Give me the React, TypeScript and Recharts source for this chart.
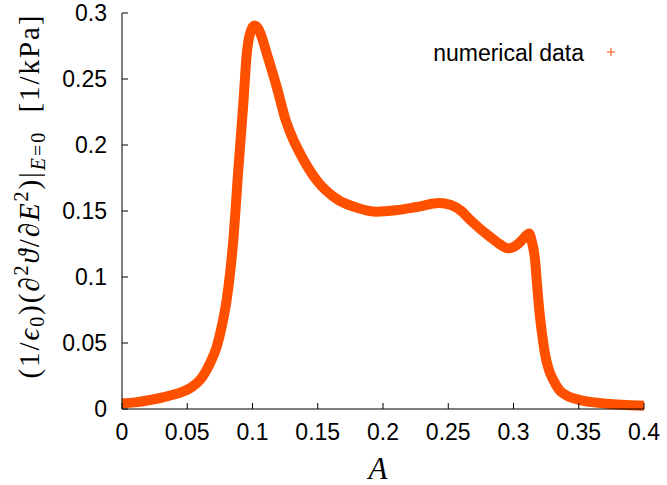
import { LineChart, Line, XAxis, YAxis } from 'recharts'

// sampled response curve, A on the x axis
const aValues = [
  0, 0.01, 0.0215, 0.033, 0.041, 0.047, 0.053, 0.0598, 0.0674, 0.0726, 0.0764, 0.0802, 0.0828, 0.0853, 0.0891, 0.093,
  0.0955, 0.098, 0.1015, 0.105, 0.108, 0.1109, 0.1185, 0.1254, 0.131, 0.1364, 0.149, 0.1658, 0.18, 0.195,
  0.21, 0.226, 0.243, 0.252, 0.26, 0.267, 0.275, 0.282, 0.29, 0.296, 0.3, 0.304, 0.308, 0.312, 0.314,
  0.3165, 0.318, 0.32, 0.322, 0.3241, 0.327, 0.3305, 0.335, 0.341, 0.351, 0.362, 0.374, 0.387, 0.4,
]
const responseValues = [
  0.0043, 0.005, 0.0068, 0.0092, 0.0113, 0.0133, 0.0163, 0.022, 0.0346, 0.0472, 0.0624, 0.0826, 0.1028, 0.128, 0.181, 0.232,
  0.268, 0.284, 0.2905, 0.287, 0.279, 0.2694, 0.2442, 0.2189, 0.2045, 0.1937, 0.1735, 0.1583, 0.1525, 0.1495,
  0.1505, 0.153, 0.156, 0.1545, 0.15, 0.143, 0.136, 0.1305, 0.1245, 0.1217, 0.1228, 0.1255, 0.1295, 0.133, 0.127,
  0.113, 0.095, 0.0725, 0.056, 0.042, 0.03, 0.022, 0.0145, 0.01, 0.0068, 0.005, 0.0038, 0.003, 0.0025,
]
const xTicks = [0, 0.05, 0.1, 0.15, 0.2, 0.25, 0.3, 0.35, 0.4]
const yTicks = [0, 0.05, 0.1, 0.15, 0.2, 0.25, 0.3]

const data = aValues.map((a, i) => ({ a, response: responseValues[i] }))

const CURVE = '#ff5000'
const TICK_FONT = '"Liberation Sans", Arial, Helvetica, sans-serif'
const MATH_FONT = '"Liberation Serif", "Times New Roman", "DejaVu Serif", serif'
const TICK_LEN = 6

const BottomTick = ({ x, y, payload }: any) => (
  <g>
    <line x1={x} y1={y} x2={x} y2={y - TICK_LEN} stroke="#000" strokeWidth={1} />
    <text x={x} y={y + 23} textAnchor="middle" dominantBaseline="central" fontFamily={TICK_FONT} fontSize={23} fill="#000">
      {payload.value}
    </text>
  </g>
)

const TopTick = ({ x, y }: any) => (
  <line x1={x} y1={y} x2={x} y2={y + TICK_LEN} stroke="#000" strokeWidth={1} />
)

const LeftTick = ({ x, y, payload }: any) => (
  <g>
    <line x1={x} y1={y} x2={x + TICK_LEN} y2={y} stroke="#000" strokeWidth={1} />
    <text x={x - 15} y={y} textAnchor="end" dominantBaseline="central" fontFamily={TICK_FONT} fontSize={23} fill="#000">
      {payload.value}
    </text>
  </g>
)

const RightTick = ({ x, y }: any) => (
  <line x1={x} y1={y} x2={x - TICK_LEN} y2={y} stroke="#000" strokeWidth={1} />
)

export default function App() {
  return (
    <div style={{ position: 'absolute', left: 0, top: 0, width: 667, height: 485, background: '#fff' }}>
      <LineChart width={667} height={485} data={data} margin={{ top: 13, right: 23, bottom: 36, left: 62 }}>
        <XAxis
          xAxisId="bottom"
          dataKey="a"
          type="number"
          domain={[0, 0.4]}
          ticks={xTicks}
          height={40}
          tickSize={0}
          tickMargin={0}
          tickLine={false}
          tick={<BottomTick />}
          axisLine={{ stroke: '#000', strokeWidth: 1 }}
          interval={0}
        />
        <XAxis
          xAxisId="top"
          orientation="top"
          dataKey="a"
          type="number"
          domain={[0, 0.4]}
          ticks={xTicks}
          height={0}
          tickSize={0}
          tickMargin={0}
          tickLine={false}
          tick={<TopTick />}
          axisLine={{ stroke: '#000', strokeWidth: 1 }}
          interval={0}
        />
        <YAxis
          yAxisId="left"
          type="number"
          domain={[0, 0.3]}
          ticks={yTicks}
          width={60}
          tickSize={0}
          tickMargin={0}
          tickLine={false}
          tick={<LeftTick />}
          axisLine={{ stroke: '#000', strokeWidth: 1 }}
          interval={0}
        />
        <YAxis
          yAxisId="right"
          orientation="right"
          type="number"
          domain={[0, 0.3]}
          ticks={yTicks}
          width={0}
          tickSize={0}
          tickMargin={0}
          tickLine={false}
          tick={<RightTick />}
          axisLine={{ stroke: '#000', strokeWidth: 1 }}
          interval={0}
        />
        <Line
          xAxisId="bottom"
          yAxisId="left"
          dataKey="response"
          type="monotone"
          stroke={CURVE}
          strokeWidth={10}
          strokeLinejoin="round"
          dot={false}
          isAnimationActive={false}
        />
      </LineChart>

      {/* axis titles and legend */}
      <svg width={667} height={485} style={{ position: 'absolute', left: 0, top: 0, pointerEvents: 'none' }}>
        <text
          transform="translate(39 197) rotate(-90)"
          textAnchor="middle"
          fontFamily={MATH_FONT}
          fontSize={29}
          fill="#000"
          textLength={363}
          lengthAdjust="spacing"
        >
          (1/<tspan fontStyle="italic">ϵ</tspan>
          <tspan fontSize={20} dy={5}>0</tspan>
          <tspan dy={-5}>)(∂</tspan>
          <tspan fontSize={20} dy={-11}>2</tspan>
          <tspan dy={11} fontStyle="italic">ϑ</tspan>
          <tspan>/∂</tspan>
          <tspan fontStyle="italic">E</tspan>
          <tspan fontSize={20} dy={-11}>2</tspan>
          <tspan dy={11}>)|</tspan>
          <tspan fontSize={20} dy={6}>
            <tspan fontStyle="italic">E</tspan>=0
          </tspan>
          <tspan dy={-6}>{'\u00a0\u00a0[1/kPa]'}</tspan>
        </text>
        <text x={378} y={479} textAnchor="middle" fontFamily={MATH_FONT} fontStyle="italic" fontSize={31} fill="#000">
          A
        </text>
        <text x={584} y={53} textAnchor="end" dominantBaseline="central" fontFamily={TICK_FONT} fontSize={23} fill="#000">
          numerical data
        </text>
        <path d="M607 52 H615 M611 48 V56" stroke={CURVE} strokeWidth={1} />
      </svg>
    </div>
  )
}
